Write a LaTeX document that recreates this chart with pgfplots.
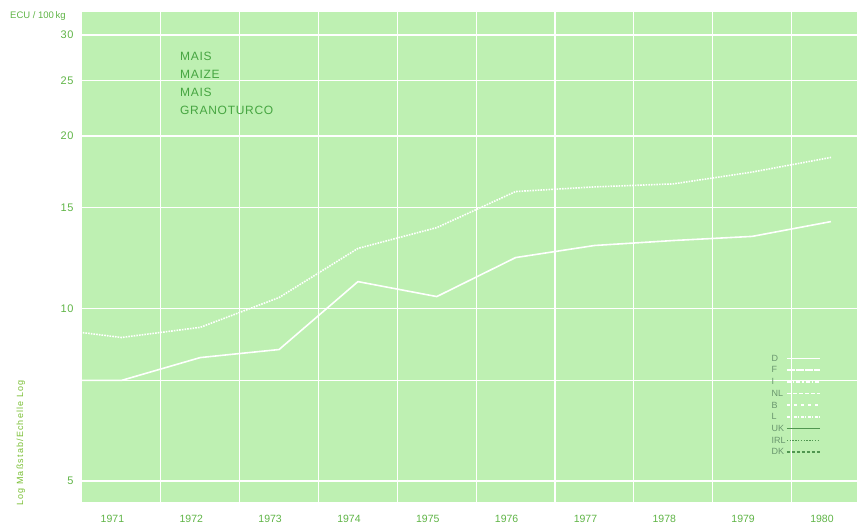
\documentclass[border=0pt]{standalone}
\usepackage{fontspec}
\setmainfont{Liberation Sans}
\usepackage{pgfplots}
\pgfplotsset{compat=1.18}
\definecolor{bg}{RGB}{190,240,178}
\definecolor{txt}{RGB}{70,165,65}
\definecolor{tick}{RGB}{95,180,70}
\definecolor{lab}{RGB}{120,190,50}
\definecolor{leg}{RGB}{105,150,110}
\definecolor{dk}{RGB}{80,150,80}
\begin{document}
\begin{tikzpicture}[x=1pt,y=1pt]
\path[use as bounding box] (0,0) rectangle (857,526);
\begin{axis}[
  at={(82pt,24pt)}, anchor=south west,
  scale only axis, width=775pt, height=490pt,
  xmin=1970.5, xmax=1980.33,
  ymode=log, ymin=4.595, ymax=32.92,
  axis background/.style={fill=bg},
  axis line style={draw=none},
  major tick length=0pt, minor tick length=0pt,
  xtick={1971,1972,1973,1974,1975,1976,1977,1978,1979,1980},
  xticklabels={1971,1972,1973,1974,1975,1976,1977,1978,1979,1980},
  minor xtick={1971.5,1972.5,1973.5,1974.5,1975.5,1976.5,1977.5,1978.5,1979.5},
  xminorgrids, xmajorgrids=false,
  ytick={5,10,15,20,25,30},
  yticklabels={5,10,15,20,25,30},
  ymajorgrids, yminorgrids=false,
  extra y ticks={7.5}, extra y tick labels={},
  extra y tick style={grid=major},
  major grid style={white, line width=1.2pt},
  minor grid style={white, line width=1.2pt},
  yticklabel style={font=\fontsize{11}{12}\selectfont\addfontfeatures{LetterSpace=6}, text=tick, xshift=-5pt},
  xticklabel style={font=\fontsize{10.5}{11}\selectfont, text=tick, xshift=-9pt, yshift=-10pt},
  legend plot pos=right,
  legend cell align=left,
  legend image code/.code={\draw[line width=1.6pt,#1] (0pt,0pt) -- (33pt,0pt);},
  legend style={at={(0.885,0.306)}, anchor=north west, draw=none, fill=none,
    font=\fontsize{9}{10}\selectfont, text=leg,
    nodes={inner sep=0.5pt, text height=6.5pt, text depth=1pt},
    row sep=3.2pt},
]
% upper series (dotted)
\addplot[forget plot, white, line width=1.6pt, dash pattern=on 1.6pt off 1.1pt] coordinates {
  (1970,9.26) (1971,8.90) (1972,9.27) (1973,10.45) (1974,12.73) (1975,13.84)
  (1976,16.0) (1977,16.3) (1978,16.5) (1979,17.3) (1980,18.35)};
% lower series (solid)
\addplot[forget plot, white, line width=1.6pt] coordinates {
  (1970,7.49) (1971,7.49) (1972,8.21) (1973,8.48) (1974,11.14) (1975,10.49)
  (1976,12.27) (1977,12.88) (1978,13.14) (1979,13.36) (1980,14.18)};
\addlegendimage{white, line width=1.6pt}
\addlegendentry{D}
\addlegendimage{white, line width=1.6pt, dash pattern=on 8pt off 1pt}
\addlegendentry{F}
\addlegendimage{white, line width=1.6pt, dash pattern=on 4pt off 2pt on 1.5pt off 2pt}
\addlegendentry{I}
\addlegendimage{white, line width=1.6pt, dash pattern=on 4pt off 2pt}
\addlegendentry{NL}
\addlegendimage{white, line width=1.6pt, dash pattern=on 3pt off 4pt}
\addlegendentry{B}
\addlegendimage{white, line width=1.6pt, dash pattern=on 3pt off 1.5pt on 1pt off 1.5pt}
\addlegendentry{L}
\addlegendimage{dk, line width=1.8pt}
\addlegendentry{UK}
\addlegendimage{dk, line width=1.6pt, dash pattern=on 1.4pt off 1.4pt}
\addlegendentry{IRL}
\addlegendimage{dk, line width=1.4pt, dash pattern=on 3pt off 2pt}
\addlegendentry{DK}
\end{axis}
\node[anchor=base west, inner sep=0, text=tick, font=\fontsize{9.5}{10}\selectfont] at (10,507) {ECU / 100\,kg};
\node[rotate=90, anchor=base west, inner sep=0, text=lab, font=\fontsize{9}{10}\selectfont\addfontfeatures{LetterSpace=13}] at (23,20) {Log Maßstab/Echelle Log};
\begin{scope}[every node/.style={anchor=base west, inner sep=0, text=txt, font=\fontsize{12}{14}\selectfont\addfontfeatures{LetterSpace=6}}]
\node at (180,465) {MAIS};
\node at (180,447) {MAIZE};
\node at (180,429) {MAIS};
\node at (180,411) {GRANOTURCO};
\end{scope}
\end{tikzpicture}
\end{document}
